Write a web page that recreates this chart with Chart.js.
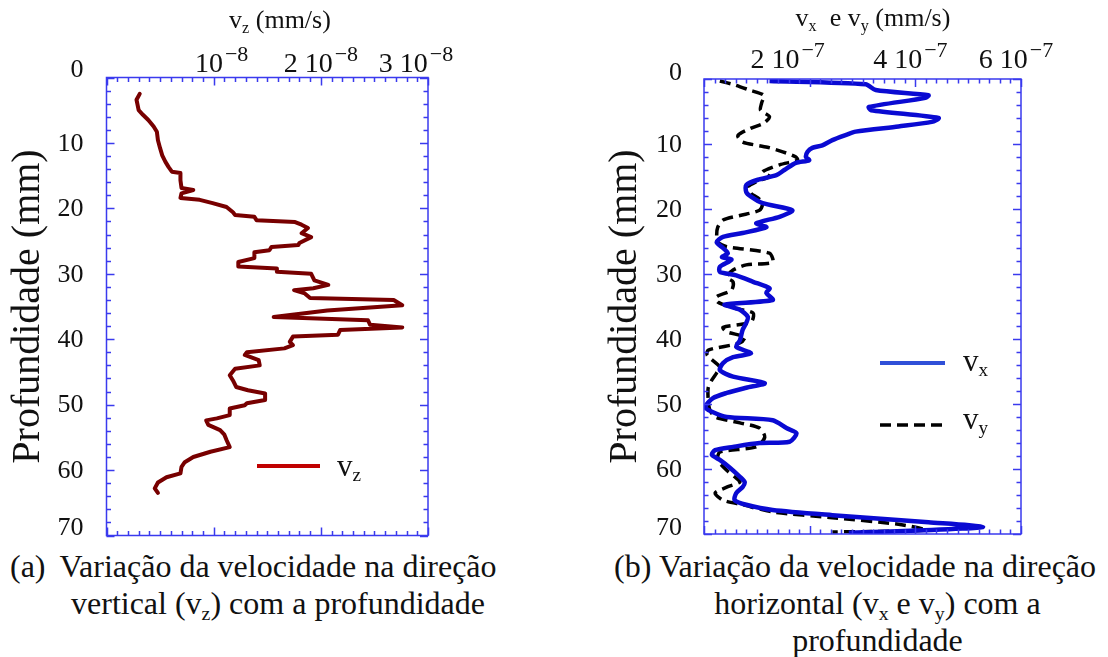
<!DOCTYPE html>
<html><head><meta charset="utf-8">
<script src="https://cdn.jsdelivr.net/npm/chart.js@4.4.1/dist/chart.umd.min.js"></script>
<style>
html,body{margin:0;padding:0;background:#fff;}
body{width:1108px;height:657px;overflow:hidden;position:relative;font-family:'Liberation Serif','Tinos','Nimbus Roman','DejaVu Serif',serif;color:#111;}
canvas{position:absolute;}
.t{position:absolute;white-space:nowrap;font-family:'Liberation Serif','Tinos','Nimbus Roman','DejaVu Serif',serif;color:#111;}
.t sub{font-size:62%;vertical-align:-0.28em;line-height:0;}
.cap{font-size:32px;line-height:37px;}
.blk{text-align:center;}
</style></head><body>
<canvas id="c1" width="460" height="545" style="left:0;top:0"></canvas>
<canvas id="c2" width="511" height="545" style="left:597px;top:0"></canvas>

<div class="t" style="left:180px;top:5px;width:200px;text-align:center;font-size:26px;line-height:30px">v<sub>z</sub> (mm/s)</div>
<div class="t" style="left:773px;top:3px;width:200px;text-align:center;font-size:26px;line-height:30px">v<sub>x</sub>&nbsp; e v<sub>y</sub> (mm/s)</div>

<div class="t" style="left:337px;top:448px;font-size:31px;line-height:36px">v<sub>z</sub></div>
<div class="t" style="left:963px;top:343px;font-size:31px;line-height:36px">v<sub>x</sub></div>
<div class="t" style="left:963px;top:401px;font-size:31px;line-height:36px">v<sub>y</sub></div>

<div class="t cap" style="left:10px;top:548px">(a)</div>
<div class="t cap blk" style="left:58px;top:548px;width:440px">Variação da velocidade na direção<br>vertical (v<sub>z</sub>) com a profundidade</div>
<div class="t cap" style="left:614px;top:548px">(b)</div>
<div class="t cap blk" style="left:657px;top:548px;width:441px">Variação da velocidade na direção<br>horizontal (v<sub>x</sub> e v<sub>y</sub>) com a<br>profundidade</div>

<script>
// ---------- data (velocity in units shown on axis; depth in mm) ----------
const VZ_DEPTH = [2.5,3.4,5.0,5.7,6.5,7.5,8.3,9.6,10.8,11.9,12.9,13.7,14.4,14.6,15.7,16.9,17.2,17.7,18.4,18.7,19.2,19.8,20.6,21.0,21.3,21.8,22.1,22.5,23.0,23.8,24.4,25.3,25.6,25.9,26.4,26.7,27.6,28.2,28.9,29.2,29.7,30.0,31.0,31.7,32.2,32.5,33.0,33.7,34.0,34.8,35.6,36.6,37.1,37.8,38.2,38.6,39.3,39.6,40.4,40.9,41.4,42.0,42.4,43.2,44.0,44.5,45.5,46.3,47.3,47.8,48.3,49.3,49.8,50.1,50.6,51.6,52.1,52.4,53.1,53.9,54.6,55.4,56.5,57.2,58.0,58.8,59.5,60.5,61.1,61.9,62.8,63.5];
const VZ_VALUE = [0.31,0.28,0.30,0.34,0.39,0.44,0.47,0.48,0.50,0.52,0.55,0.58,0.61,0.69,0.69,0.70,0.81,0.70,0.69,0.87,0.99,1.12,1.18,1.20,1.38,1.40,1.76,1.82,1.88,1.82,1.91,1.80,1.79,1.54,1.52,1.38,1.38,1.23,1.23,1.59,1.59,1.91,1.94,2.07,1.93,1.75,1.85,1.90,2.68,2.76,2.06,1.56,2.44,2.46,2.76,2.18,2.16,1.74,1.71,1.74,1.66,1.31,1.29,1.42,1.43,1.20,1.15,1.18,1.21,1.32,1.48,1.48,1.31,1.29,1.15,1.15,1.03,0.93,0.95,1.06,1.10,1.12,1.15,0.97,0.81,0.73,0.70,0.69,0.56,0.48,0.45,0.48];

const VX_DEPTH = [0.3,0.8,1.7,2.5,2.9,4.3,4.8,6.0,6.6,7.3,8.1,8.6,9.4,10.2,10.6,11.2,12.0,12.5,12.9,14.0,14.8,15.5,16.3,17.4,18.1,19.1,20.2,21.2,22.2,22.8,23.7,24.3,25.1,26.0,26.8,27.4,27.8,28.9,29.7,30.2,31.2,32.2,32.9,34.0,34.7,35.5,36.6,37.5,38.6,40.2,41.2,42.2,42.8,43.7,44.8,45.8,46.8,47.5,48.3,49.1,50.5,51.2,52.0,52.5,53.7,54.5,55.8,56.0,56.6,57.1,57.8,58.6,59.8,61.2,62.0,62.8,63.7,64.8,65.5,66.3,67.1,68.2,68.9,69.4,69.8];
const VX_VALUE = [1.24,3.06,3.25,4.25,4.19,3.12,3.16,4.44,4.31,3.68,2.87,2.69,2.43,2.24,2.05,1.96,1.93,1.99,1.74,1.52,1.37,1.02,0.80,0.80,0.89,1.11,1.67,1.43,0.99,1.18,0.73,0.36,0.24,0.36,0.45,0.34,0.52,0.30,0.30,0.61,0.93,1.24,1.18,1.30,0.39,0.68,0.83,0.80,0.73,0.68,0.61,0.89,0.55,0.36,0.30,0.55,1.15,0.80,0.43,0.17,0.02,0.15,0.43,1.30,1.56,1.75,1.62,1.05,0.55,0.21,0.15,0.30,0.49,0.68,0.77,0.73,0.61,0.58,0.80,1.30,2.43,4.25,5.28,4.31,2.74];

const VY_DEPTH = [0.3,0.9,1.7,2.5,3.7,4.8,5.8,6.8,7.6,8.7,9.7,10.5,11.2,12.0,12.5,13.2,14.3,15.0,15.8,16.6,17.6,18.3,19.1,20.2,21.0,21.7,22.8,24.0,25.1,25.8,26.8,28.2,28.6,29.4,30.5,31.2,32.5,33.5,34.3,35.2,36.0,37.4,38.2,38.9,39.7,40.6,41.7,42.5,44.3,45.2,46.3,47.5,49.4,50.9,52.0,52.9,53.7,55.1,56.6,57.4,58.6,60.2,61.4,62.0,62.8,63.7,64.8,65.5,66.6,67.5,68.5,69.4,69.7];
const VY_VALUE = [0.30,0.58,0.86,1.13,1.09,1.07,1.24,1.13,0.88,0.64,0.73,1.20,1.49,1.74,1.77,1.43,1.11,1.24,0.99,0.83,0.89,1.02,1.11,1.05,0.68,0.36,0.26,0.24,0.26,0.43,1.24,1.30,0.80,0.55,0.43,0.55,0.52,0.24,0.26,0.55,0.93,0.89,0.36,0.43,0.77,0.68,0.08,0.06,0.30,0.24,0.15,0.08,0.08,0.11,0.21,0.68,1.05,1.15,0.99,0.30,0.26,0.43,0.61,0.68,0.43,0.21,0.36,0.73,1.30,2.43,3.68,4.19,2.43];

// tick labels: "base^exponent"
const LEFT_X_TICK_VALUES = [1,2,3];
const LEFT_X_TICK_LABELS = ['10^\u22128', '2 10^\u22128', '3 10^\u22128'];
const RIGHT_X_TICK_VALUES = [2,4,6];
const RIGHT_X_TICK_LABELS = ['2 10^\u22127', '4 10^\u22127', '6 10^\u22127'];
const DEPTH_TICK_VALUES = [0,10,20,30,40,50,60,70];
const DEPTH_TICK_LABELS = ['0','10','20','30','40','50','60','70'];

// ---------- helpers ----------
function pts(depth, val){ return depth.map((d,i)=>({x:val[i], y:d})); }

const SERIF = "'Liberation Serif', 'Tinos', 'Nimbus Roman', 'DejaVu Serif', serif";
const BOX = '#3a3aee';

const boxTicks = {
  id:'boxTicks',
  afterDraw(chart, args, o){
    const {ctx, chartArea:a, scales:{x,y}} = chart;
    ctx.save();
    ctx.strokeStyle = BOX; ctx.lineWidth = 1.5;
    ctx.beginPath();
    const nx = Math.round((x.max - x.min)/o.xMinor);
    for(let i=0;i<=nx;i++){
      const v = x.min + i*o.xMinor;
      const px = Math.round(x.getPixelForValue(v))+0.5;
      const L = (i % o.xMajorEvery) === 0 ? 8 : 4.5;
      ctx.moveTo(px, a.top); ctx.lineTo(px, a.top + L);
      ctx.moveTo(px, a.bottom); ctx.lineTo(px, a.bottom - L);
    }
    const ny = Math.round((y.max - y.min)/o.yMinor);
    for(let i=0;i<=ny;i++){
      const v = y.min + i*o.yMinor;
      const py = Math.round(y.getPixelForValue(v))+0.5;
      const L = (i % o.yMajorEvery) === 0 ? 8 : 4.5;
      ctx.moveTo(a.left, py); ctx.lineTo(a.left + L, py);
      ctx.moveTo(a.right, py); ctx.lineTo(a.right - L, py);
    }
    ctx.stroke();
    ctx.strokeRect(a.left, a.top, a.right - a.left, a.bottom - a.top);

    // legend samples
    (o.legend||[]).forEach(it=>{
      ctx.beginPath();
      ctx.strokeStyle = it.color; ctx.lineWidth = it.width;
      ctx.setLineDash(it.dash||[]);
      ctx.moveTo(it.x1, it.y); ctx.lineTo(it.x2, it.y);
      ctx.stroke();
    });
    ctx.setLineDash([]);

    // x tick labels (base + superscript exponent), placed by the x scale
    ctx.fillStyle = '#111';
    ctx.textBaseline = 'alphabetic'; ctx.textAlign = 'left';
    o.xTickValues.forEach((v,i)=>{
      const [base, exp] = o.xTickLabels[i].split('^');
      ctx.font = `28px ${SERIF}`;
      const wb = ctx.measureText(base).width;
      ctx.font = `22px ${SERIF}`;
      const we = ctx.measureText(exp).width;
      const total = wb + 2 + we;
      const x0 = x.getPixelForValue(v) - total/2 + (o.xLabelShift[i]||0);
      ctx.font = `28px ${SERIF}`;
      ctx.fillText(base, x0, o.xBaseline);
      ctx.font = `22px ${SERIF}`;
      ctx.fillText(exp, x0 + wb + 2, o.xBaseline - 11);
    });

    // y tick labels, placed by the y scale
    ctx.font = `26px ${SERIF}`;
    ctx.textAlign = 'right'; ctx.textBaseline = 'middle';
    DEPTH_TICK_VALUES.forEach((v,i)=>{
      let py = y.getPixelForValue(v);
      if (i === 0) py -= o.endShift;
      if (i === DEPTH_TICK_VALUES.length-1) py -= o.endShift;
      ctx.fillText(DEPTH_TICK_LABELS[i], a.left - o.yPad, py + 1);
    });
    ctx.restore();
  }
};

function makeChart(id, cfg){
  return new Chart(document.getElementById(id), {
    type:'scatter',
    data:{datasets: cfg.datasets},
    options:{
      responsive:false, animation:false,
      layout:{padding:{left:0, top:0, right:cfg.padRight, bottom:cfg.padBottom}},
      plugins:{legend:{display:false}, tooltip:{enabled:false},
        boxTicks:{xMinor:cfg.xMinor, xMajorEvery:cfg.xMajorEvery, yMinor:2, yMajorEvery:5,
          legend:cfg.legend, xTickValues:cfg.xTickValues, xTickLabels:cfg.xTickLabels,
          xLabelShift:cfg.xLabelShift, xBaseline:cfg.xBaseline, yPad:cfg.yPad, endShift:cfg.endShift}},
      scales:{
        x:{type:'linear', position:'top', min:0, max:cfg.xMax,
           grid:{display:false, drawTicks:false}, border:{display:false},
           ticks:{display:false},
           afterFit: s => { s.height = cfg.top; s.paddingLeft = 0; s.paddingRight = 0; }},
        y:{type:'linear', position:'left', reverse:true, min:0, max:70,
           grid:{display:false, drawTicks:false}, border:{display:false},
           ticks:{display:false},
           title:{display:true, text:'Profundidade (mm)', color:'#111',
             font:{family:SERIF, size:40}, padding:{top:4,bottom:0}},
           afterFit: s => { s.width = cfg.left; s.paddingTop = 0; s.paddingBottom = 0; }}
      }
    },
    plugins:[boxTicks]
  });
}

makeChart('c1', {
  datasets:[{label:'vz', data:pts(VZ_DEPTH, VZ_VALUE), showLine:true, borderColor:'#780000',
    borderWidth:4, pointRadius:0, tension:0, borderJoinStyle:'round', borderCapStyle:'round'}],
  xMax:3, xMinor:0.1, xMajorEvery:10, xTickValues:LEFT_X_TICK_VALUES, xTickLabels:LEFT_X_TICK_LABELS,
  xLabelShift:[8,0,-12], xBaseline:72, endShift:8,
  left:106.5, top:77.5, padRight:32, padBottom:9.5, yPad:23,
  legend:[{x1:257, x2:320, y:466, color:'#c00000', width:4}]
});

makeChart('c2', {
  datasets:[
    {label:'vx', data:pts(VX_DEPTH, VX_VALUE), showLine:true, borderColor:'#0a0ad2',
     borderWidth:4.5, pointRadius:0, tension:0.25, borderJoinStyle:'round'},
    {label:'vy', data:pts(VY_DEPTH, VY_VALUE), showLine:true, borderColor:'#000000',
     borderWidth:3.5, borderDash:[11,6], pointRadius:0, tension:0.25}
  ],
  xMax:6, xMinor:0.2, xMajorEvery:10, xTickValues:RIGHT_X_TICK_VALUES, xTickLabels:RIGHT_X_TICK_LABELS,
  xLabelShift:[-22,-5,-5], xBaseline:68, endShift:7,
  left:107, top:79, padRight:87, padBottom:11, yPad:22,
  legend:[{x1:283, x2:348, y:363, color:'#3050d8', width:4},
          {x1:283, x2:346, y:425, color:'#000000', width:3.5, dash:[11,6]}]
});
</script>
</body></html>
